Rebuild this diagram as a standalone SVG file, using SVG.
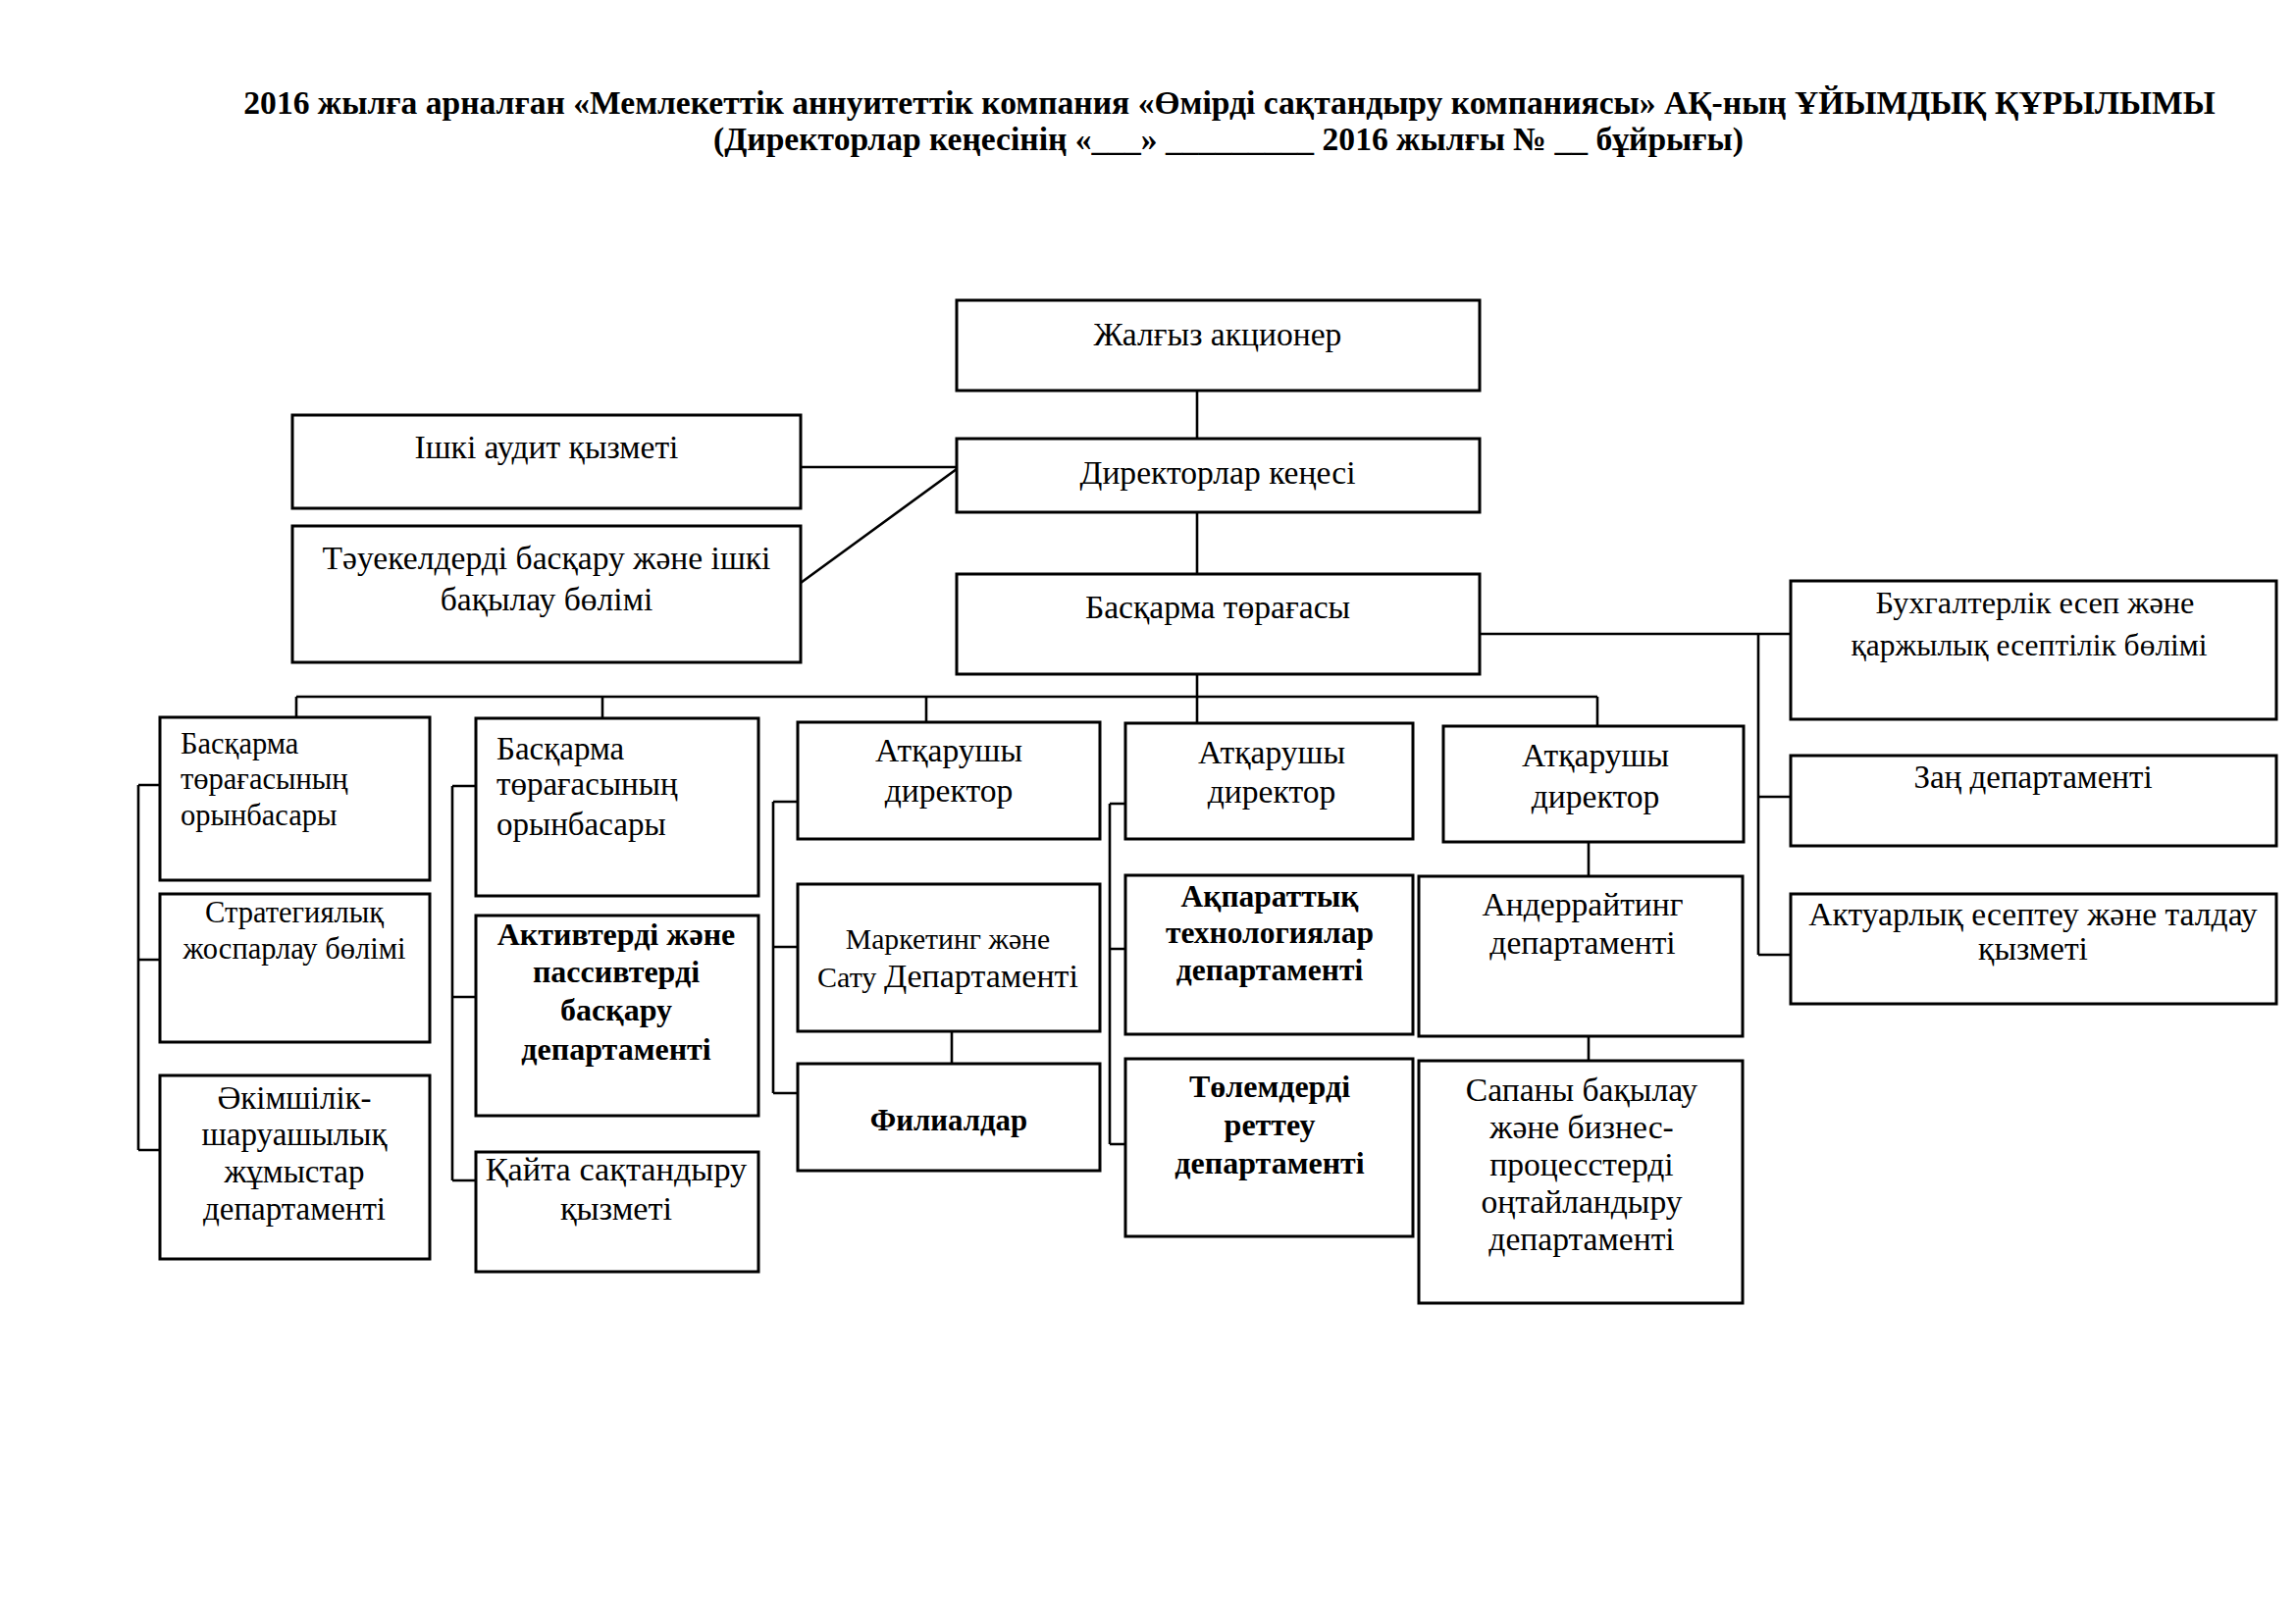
<svg xmlns="http://www.w3.org/2000/svg" width="2340" height="1654" viewBox="0 0 2340 1654">
<style>
.bx{fill:#fff;stroke:#000;stroke-width:3}
.ln{fill:none;stroke:#000;stroke-width:2.6}
text{font-family:"Liberation Serif","Times New Roman",serif;fill:#000}
.c{text-anchor:middle}
.s30{font-size:30.5px}
.s32{font-size:32px}
.s33{font-size:33px}
.s34{font-size:33.6px}
.b{font-weight:bold}
.t{font-size:33.6px;font-weight:bold;text-anchor:middle}
</style>
<rect x="0" y="0" width="2340" height="1654" fill="#fff"/>
<g id="title">
<text class="t" x="1253" y="116">2016 жылға арналған «Мемлекеттік аннуитеттік компания «Өмірді сақтандыру компаниясы» АҚ-ның ҰЙЫМДЫҚ ҚҰРЫЛЫМЫ</text>
<text class="t" x="1252" y="153">(Директорлар кеңесінің  «___» _________ 2016 жылғы № __ бұйрығы)</text>
</g>
<g id="connectors">
<path class="ln" d="M1220 398V447M1220 522V585M1220 687V737"/>
<path class="ln" d="M816 476H975M816 594L975 478"/>
<path class="ln" d="M302 710H1628M302 710V731M614 710V732M944 710V736M1628 710V740"/>
<path class="ln" d="M141 800V1172M141 800H163M141 978H163M141 1172H163"/>
<path class="ln" d="M461 801V1203M461 801H485M461 1016H485M461 1203H485"/>
<path class="ln" d="M788 817V1114M788 817H813M788 965H813M788 1114H813M970 1051V1084"/>
<path class="ln" d="M1131 819V1166M1131 819H1147M1131 967H1147M1131 1166H1147"/>
<path class="ln" d="M1619 858V893M1619 1056V1081"/>
<path class="ln" d="M1508 646H1825M1792 646V973M1792 812H1825M1792 973H1825"/>
</g>
<g id="n-shareholder"><rect class="bx" x="975" y="306" width="533" height="92"/><text class="c s34" x="1241" y="352">Жалғыз акционер</text></g>
<g id="n-board"><rect class="bx" x="975" y="447" width="533" height="75"/><text class="c s34" x="1241" y="493">Директорлар кеңесі</text></g>
<g id="n-chair"><rect class="bx" x="975" y="585" width="533" height="102"/><text class="c s34" x="1241" y="630">Басқарма төрағасы</text></g>
<g id="n-audit"><rect class="bx" x="298" y="423" width="518" height="95"/><text class="c s34" x="557" y="467">Ішкі аудит қызметі</text></g>
<g id="n-risk"><rect class="bx" x="298" y="536" width="518" height="139"/><text class="c s34" x="557" y="580">Тәуекелдерді басқару және ішкі</text><text class="c s34" x="557" y="622">бақылау бөлімі</text></g>
<g id="n-account"><rect class="bx" x="1825" y="592" width="495" height="141"/><text class="c" font-size="32.3" x="2074" y="625">Бухгалтерлік есеп және</text><text class="c" font-size="31.5" x="2068" y="668">қаржылық есептілік бөлімі</text></g>
<g id="n-legal"><rect class="bx" x="1825" y="770" width="495" height="92"/><text class="c s33" x="2072" y="803">Заң департаменті</text></g>
<g id="n-actuar"><rect class="bx" x="1825" y="911" width="495" height="112"/><text class="c s34" x="2072" y="943">Актуарлық есептеу және талдау</text><text class="c s34" x="2072" y="978">қызметі</text></g>
<g id="n-dep1"><rect class="bx" x="163" y="731" width="275" height="166"/><text class="s30" x="184" y="768">Басқарма</text><text class="s30" x="184" y="804">төрағасының</text><text class="s30" x="184" y="841">орынбасары</text></g>
<g id="n-strat"><rect class="bx" x="163" y="911" width="275" height="151"/><text class="c s30" x="300" y="940">Стратегиялық</text><text class="c s30" x="300" y="977">жоспарлау бөлімі</text></g>
<g id="n-admin"><rect class="bx" x="163" y="1096" width="275" height="187"/><text class="c s33" x="300" y="1130">Әкімшілік-</text><text class="c s33" x="300" y="1167">шаруашылық</text><text class="c s33" x="300" y="1205">жұмыстар</text><text class="c s33" x="300" y="1243">департаменті</text></g>
<g id="n-dep2"><rect class="bx" x="485" y="732" width="288" height="181"/><text class="s33" x="506" y="774">Басқарма</text><text class="s33" x="506" y="810">төрағасының</text><text class="s33" x="506" y="851">орынбасары</text></g>
<g id="n-alm"><rect class="bx" x="485" y="933" width="288" height="204"/><text class="c s32 b" x="628" y="963">Активтерді және</text><text class="c s32 b" x="628" y="1001">пассивтерді</text><text class="c s32 b" x="628" y="1040">басқару</text><text class="c s32 b" x="628" y="1080">департаменті</text></g>
<g id="n-reins"><rect class="bx" x="485" y="1174" width="288" height="122"/><text class="c" font-size="34.3" x="628" y="1203">Қайта сақтандыру</text><text class="c" font-size="34.3" x="628" y="1243">қызметі</text></g>
<g id="n-exec1"><rect class="bx" x="813" y="736" width="308" height="119"/><text class="c s34" x="967" y="776">Атқарушы</text><text class="c s34" x="967" y="817">директор</text></g>
<g id="n-mkt"><rect class="bx" x="813" y="901" width="308" height="150"/><text class="c" x="966" y="967" font-size="29.7">Маркетинг және</text><text class="c" x="966" y="1006" font-size="30">Сату <tspan font-size="34">Департаменті</tspan></text></g>
<g id="n-branch"><rect class="bx" x="813" y="1084" width="308" height="109"/><text class="c b" font-size="30.8" x="967" y="1152">Филиалдар</text></g>
<g id="n-exec2"><rect class="bx" x="1147" y="737" width="293" height="118"/><text class="c s34" x="1296" y="778">Атқарушы</text><text class="c s34" x="1296" y="818">директор</text></g>
<g id="n-it"><rect class="bx" x="1147" y="892" width="293" height="162"/><text class="c b" font-size="31.5" x="1294" y="924">Ақпараттық</text><text class="c b" font-size="31.5" x="1294" y="961">технологиялар</text><text class="c b" font-size="31.5" x="1294" y="999">департаменті</text></g>
<g id="n-pay"><rect class="bx" x="1147" y="1079" width="293" height="181"/><text class="c s32 b" x="1294" y="1118">Төлемдерді</text><text class="c s32 b" x="1294" y="1157">реттеу</text><text class="c s32 b" x="1294" y="1196">департаменті</text></g>
<g id="n-exec3"><rect class="bx" x="1471" y="740" width="306" height="118"/><text class="c s34" x="1626" y="781">Атқарушы</text><text class="c s34" x="1626" y="823">директор</text></g>
<g id="n-under"><rect class="bx" x="1446" y="893" width="330" height="163"/><text class="c s34" x="1613" y="933">Андеррайтинг</text><text class="c s34" x="1613" y="972">департаменті</text></g>
<g id="n-qual"><rect class="bx" x="1446" y="1081" width="330" height="247"/><text class="c s34" x="1612" y="1122">Сапаны бақылау</text><text class="c s34" x="1612" y="1160">және бизнес-</text><text class="c s34" x="1612" y="1198">процесстерді</text><text class="c s34" x="1612" y="1236">оңтайландыру</text><text class="c s34" x="1612" y="1274">департаменті</text></g>
</svg>
